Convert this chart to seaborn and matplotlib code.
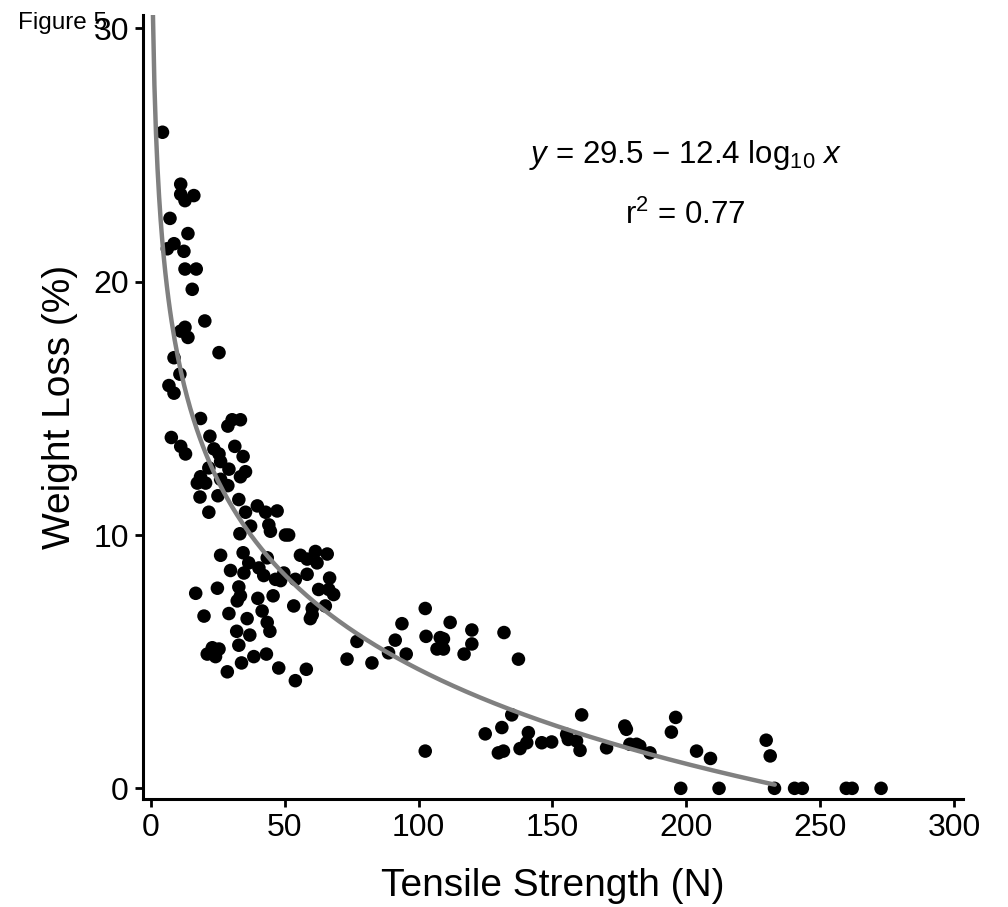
import numpy as np
import pandas as pd
import seaborn as sns
import matplotlib.pyplot as plt

# values
strength = [
    4.4, 11.2, 11.2, 16.1, 12.8, 7.2, 13.9, 8.7, 6.2, 12.4, 12.8, 17.0, 15.5,
    20.2, 12.8, 11.2, 13.9, 25.5, 8.7, 10.9, 6.8, 8.7,
    18.6, 28.8, 30.4, 33.5, 7.7, 22.1, 11.2, 13.0, 23.6, 25.5, 31.4, 34.5,
    26.1, 21.7, 29.2, 35.4, 33.5, 18.6, 17.4, 20.5, 26.1, 28.8, 18.4, 25.1, 32.9,
    21.7, 33.3, 35.4, 39.8, 42.9, 47.2, 37.3, 44.1, 44.7, 50.3, 51.5,
    26.1, 34.5, 36.6, 29.8, 34.8, 40.4, 42.2, 43.5, 46.6, 48.5, 49.7, 54.0,
    55.9, 58.4, 61.5, 62.1, 65.9, 58.4, 66.8, 62.7, 66.5, 68.3, 65.2, 53.4,
    60.3, 60.3, 59.6, 16.8, 24.9, 32.9, 33.5, 32.3, 40.0, 45.7, 41.6, 29.2,
    36.0, 19.9, 43.5, 44.5, 32.1, 37.0, 32.9, 23.0, 25.5, 21.1, 24.2, 33.9,
    38.5, 43.2, 28.6, 47.8, 58.1, 54.0, 73.3, 77.0,
    82.6, 93.8, 102.5, 91.3, 88.8, 95.4, 102.8, 108.1, 109.3, 106.9, 109.3,
    111.8, 119.9, 119.9, 117.0,
    131.9, 137.3, 102.5, 134.8, 160.9, 131.1, 124.9, 129.8, 131.7, 141.0, 140.4,
    137.9, 146.0, 149.7, 155.3, 155.9, 159.0, 160.3, 170.2, 177.0, 177.6, 178.9,
    181.4, 182.6, 186.4, 196.0, 194.4, 203.8, 197.9,
    209.0, 229.8, 231.3, 212.2, 232.9, 240.4, 243.3, 259.7, 261.9, 272.7,
]
weight_loss = [
    25.9, 23.85, 23.45, 23.4, 23.2, 22.5, 21.9, 21.5, 21.3, 21.2, 20.5, 20.5, 19.7,
    18.45, 18.2, 18.05, 17.8, 17.2, 17.0, 16.35, 15.9, 15.6,
    14.6, 14.3, 14.55, 14.55, 13.85, 13.9, 13.5, 13.2, 13.4, 13.2, 13.5, 13.1,
    12.9, 12.65, 12.6, 12.5, 12.3, 12.3, 12.05, 12.05, 12.2, 11.95, 11.5, 11.55, 11.4,
    10.9, 10.05, 10.9, 11.15, 10.9, 10.95, 10.35, 10.4, 10.15, 10.0, 10.0,
    9.2, 9.3, 8.9, 8.6, 8.5, 8.7, 8.4, 9.1, 8.25, 8.2, 8.5, 8.25,
    9.2, 9.05, 9.35, 8.9, 9.25, 8.45, 8.3, 7.85, 7.85, 7.65, 7.2, 7.2,
    7.1, 6.85, 6.7, 7.7, 7.9, 7.95, 7.6, 7.4, 7.5, 7.6, 7.0, 6.9,
    6.7, 6.8, 6.55, 6.2, 6.2, 6.05, 5.65, 5.55, 5.5, 5.3, 5.2, 4.95,
    5.2, 5.3, 4.6, 4.75, 4.7, 4.25, 5.1, 5.8,
    4.95, 6.5, 7.1, 5.85, 5.35, 5.3, 6.0, 5.95, 5.9, 5.5, 5.5,
    6.55, 6.25, 5.7, 5.3,
    6.15, 5.1, 1.47, 2.9, 2.9, 2.4, 2.15, 1.4, 1.47, 2.2, 1.8,
    1.57, 1.8, 1.83, 2.13, 1.93, 1.87, 1.5, 1.6, 2.46, 2.33, 1.74,
    1.74, 1.67, 1.4, 2.8, 2.22, 1.47, 0.0,
    1.18, 1.9, 1.28, 0.0, 0.0, 0.0, 0.0, 0.0, 0.0, 0.0,
]

# fitted curve from the stated equation
fit_a = 29.5
fit_b = 12.4
fit_x = np.linspace(0.8, 233, 400)

df = pd.DataFrame({'strength': strength, 'loss': weight_loss})
fit = pd.DataFrame({'x': fit_x, 'y': fit_a - fit_b * np.log10(fit_x)})

sns.set_style('ticks')
plt.rcParams['font.family'] = ['Liberation Sans', 'DejaVu Sans']
plt.rcParams['mathtext.fontset'] = 'custom'
plt.rcParams['mathtext.rm'] = 'Liberation Sans'
plt.rcParams['mathtext.it'] = 'Liberation Sans:italic'
plt.rcParams['text.color'] = 'black'
plt.rcParams['axes.labelcolor'] = 'black'

fig = plt.figure(figsize=(10.08, 9.07), dpi=100)
ax = fig.add_axes([0.1416, 0.1191, 0.8138, 0.8644])

sns.scatterplot(data=df, x='strength', y='loss', color='black', s=95,
                edgecolor='none', ax=ax, zorder=2)
sns.lineplot(data=fit, x='x', y='y', color='#808080', linewidth=3.2,
             ax=ax, zorder=3)

ax.set_xlim(-2.98, 303.3)
ax.set_ylim(-0.42, 30.53)
ax.set_xticks([0, 50, 100, 150, 200, 250, 300])
ax.set_yticks([0, 10, 20, 30])
ax.tick_params(labelsize=23, length=6, width=2.0, colors='black', pad=4)
for s in ['left', 'bottom']:
    ax.spines[s].set_linewidth(2.2)
    ax.spines[s].set_color('black')
sns.despine(ax=ax)

ax.set_xlabel('Tensile Strength (N)', fontsize=28, labelpad=18)
ax.set_ylabel('Weight Loss (%)', fontsize=28, labelpad=11)

ax.text(0.662, 0.821, r'$\it{y}$ = 29.5 − 12.4 log$_{10}$ $\it{x}$',
        transform=ax.transAxes, ha='center', va='center', fontsize=22.5)
ax.text(0.662, 0.744, r'r$^2$ = 0.77', transform=ax.transAxes,
        ha='center', va='center', fontsize=22.5)

# the reference prints this label over the top y tick
fig.text(0.018, 0.975, 'Figure 5', fontsize=17.5, ha='left', va='center')

fig.savefig('out.png', dpi=100)
